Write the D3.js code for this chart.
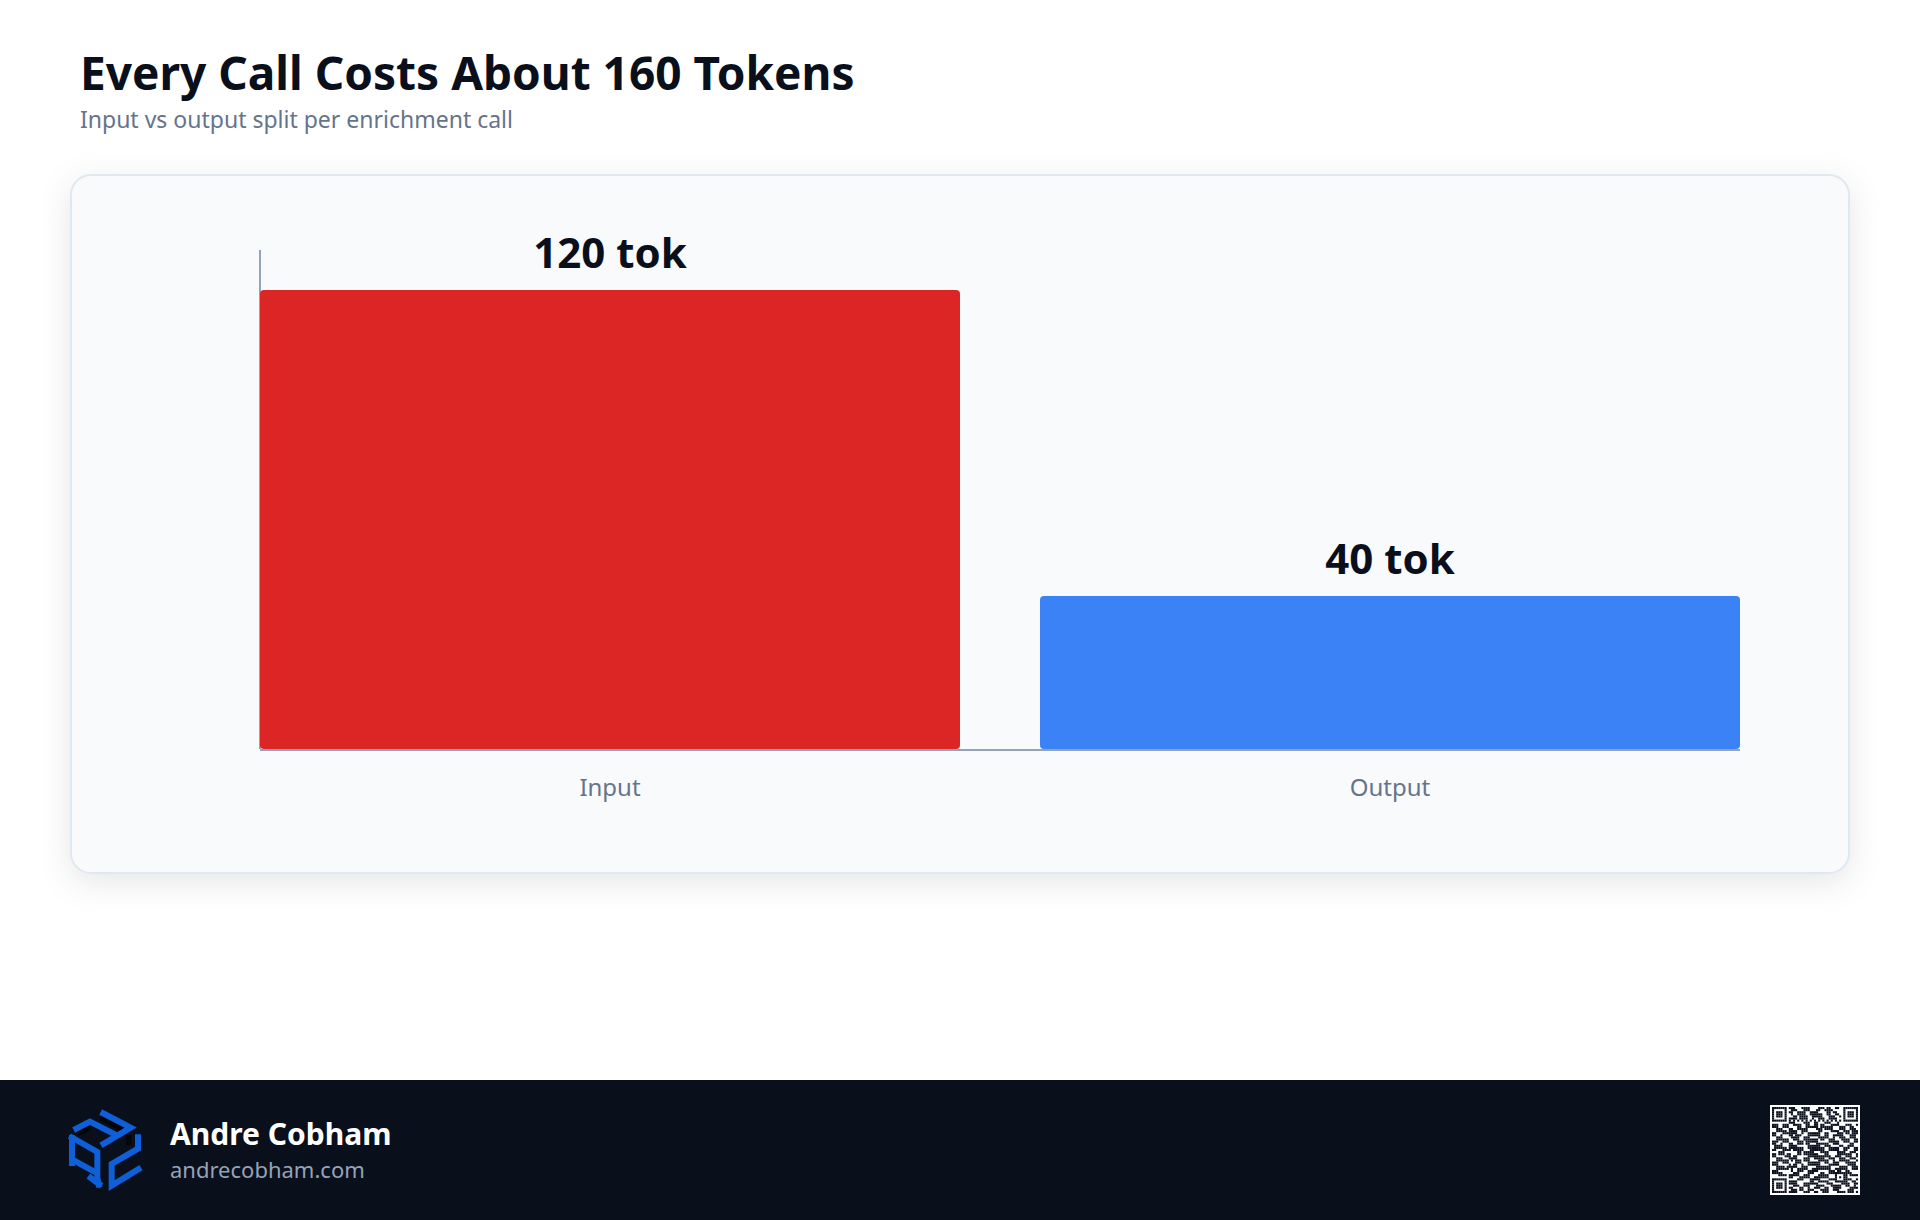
<!DOCTYPE html>
<html>
<head>
<meta charset="utf-8">
<script src="https://cdnjs.cloudflare.com/ajax/libs/d3/7.8.5/d3.min.js"></script>
<style>
html, body { margin: 0; padding: 0; background: #fff; }
svg { display: block; font-family: "Noto Sans", sans-serif; }
</style>
</head>
<body>
<div id="chart"></div>
<script>
var categories = ["Input", "Output"]
var tokens = [120, 40]
var barColors = ["#dc2626", "#3b82f6"]
var yDomainMax = 130.46

var titleText = "Every Call Costs About 160 Tokens"
var subtitleText = "Input vs output split per enrichment call"
var authorName = "Andre Cobham"
var authorSite = "andrecobham.com"

// footer qr code (5 per group)
var qrRows = [
	"11111 11011 10001 11100 00111 01100 11001 11111 1",
	"10000 01001 11000 11100 01100 11110 00001 00000 1",
	"10111 01011 00111 10011 11000 01101 10001 01110 1",
	"10111 01001 00111 10011 11110 01100 11001 01110 1",
	"10111 01000 11011 11001 11110 00111 00101 01110 1",
	"10000 01011 11011 11001 00111 00111 10001 00000 1",
	"11111 11010 10101 01010 10101 01010 10101 11111 1",
	"00000 00011 10000 11100 11000 11100 01000 00000 0",
	"11100 11100 11110 01100 11011 00011 11000 11100 1",
	"11100 11100 00110 01111 11011 11110 00111 00110 0",
	"00111 00011 00111 11000 01110 11110 00111 00111 0",
	"00111 11011 11001 11000 00110 00011 11001 11011 1",
	"11000 11111 11001 00111 11100 11000 01110 11011 1",
	"11001 00011 01110 00111 11100 11001 11110 00111 0",
	"00111 00001 11100 11100 00111 11001 00111 00111 0",
	"00111 11100 11100 11111 11011 00111 00011 11001 1",
	"11100 11100 00111 01111 11000 00111 11001 11001 1",
	"11001 00011 00111 01100 01111 11001 11000 00110 0",
	"01111 00011 11000 00111 11100 11100 00110 01110 0",
	"01111 11011 11111 00111 11111 00111 11001 11001 1",
	"11000 11110 11111 00011 11111 00111 11001 10001 1",
	"00011 10000 00110 11111 00011 11000 01111 00111 0",
	"11011 10110 00110 11111 11000 11000 01111 11100 1",
	"11000 01110 11000 00111 11111 11100 11100 11100 1",
	"00111 00011 11000 11100 11111 00111 00111 00111 0",
	"00111 11101 01110 11100 00111 11001 00111 11000 1",
	"11100 11100 01110 00111 11100 11001 11000 11111 0",
	"11100 00010 11001 00111 11100 00111 11000 01111 0",
	"00111 10111 11001 11000 01111 11100 00111 10011 1",
	"00111 11101 00111 11001 11111 11100 11111 10011 1",
	"11100 00001 00111 00111 11000 00111 01100 11000 0",
	"11111 00000 11100 00111 00011 00111 11111 11100 0",
	"00011 11011 11100 11100 00111 11000 10001 10111 1",
	"00000 00011 00011 11100 11111 11000 10101 10000 0",
	"11111 11000 00111 00011 11100 00111 10001 11100 1",
	"10000 01011 11000 00011 00111 11000 11111 10011 0",
	"10111 01011 11000 11111 11000 01110 00011 11001 1",
	"10111 01000 11100 11100 01111 00011 11100 11001 0",
	"10111 01011 00011 00100 11100 11001 11100 00111 1",
	"10000 01001 11011 00111 00011 11001 11000 01110 0",
	"11111 11011 11000 11100 11001 11000 01111 01110 1"
].map(function(r){ return r.replace(/ /g, "") })

// logo strokes, in 3x crop coordinates of the mark
var logoStrokes = [
	"M96,135 V228",
	"M88,138 L172,186 V262 L178,292",
	"M96,208 L172,250",
	"M145,258 L185,288",
	"M182,66 L272,113 L183,166",
	"M101,120 L150,95 L232,137",
	"M294,133 V176 L215,222 V287 L303,233"
]
var logoShades = [
	"M182,84 L262,125",
	"M150,112 L115,130",
	"M266,135 V165",
	"M150,245 L185,270"
]

var W = 1920, H = 1220
var margin = {top: 250, right: 180, bottom: 471, left: 260}
var width = W - margin.left - margin.right
var height = H - margin.top - margin.bottom

var x = d3.scaleBand()
	.domain(categories)
	.range([0, width])
	.paddingInner(80 / 780)
	.paddingOuter(0)

var y = d3.scaleLinear()
	.domain([0, yDomainMax])
	.range([height, 0])

var svg = d3.select("#chart")
	.append("svg")
	.attr("width", W)
	.attr("height", H)

// card
svg.append("rect")
	.attr("x", 71).attr("y", 175)
	.attr("width", 1778).attr("height", 698)
	.attr("rx", 20).attr("ry", 20)
	.attr("fill", "#f8fafc")
	.attr("stroke", "#e2e8f0")
	.attr("stroke-width", 2)
	.style("filter", "drop-shadow(0 8px 16px rgba(15,23,42,0.11))")

svg.append("text")
	.attr("x", 80).attr("y", 90)
	.attr("font-size", 46).attr("font-weight", 700)
	.attr("fill", "#0a0f1c")
	.text(titleText)

svg.append("text")
	.attr("x", 80).attr("y", 128)
	.attr("font-size", 23)
	.attr("fill", "#64748b")
	.text(subtitleText)

var main = svg.append("g")
	.attr("transform", "translate(" + margin.left + "," + margin.top + ")")

main.append("g")
	.attr("class", "y-axis")
	.call(d3.axisLeft(y).tickValues([]).tickSize(0).offset(0))
	.select(".domain")
	.attr("stroke", "#94a3b8").attr("stroke-width", 2)

// the baseline sits just under the bars, they stop on its top edge
var xAxis = main.append("g")
	.attr("class", "x-axis")
	.attr("transform", "translate(0," + (height + 1) + ")")
	.call(d3.axisBottom(x).tickSize(0).tickPadding(29).offset(0))

xAxis.select(".domain").attr("stroke", "#94a3b8").attr("stroke-width", 2)
xAxis.selectAll("text")
	.attr("font-family", '"Noto Sans", sans-serif')
	.attr("font-size", 24)
	.attr("fill", "#64748b")

main.selectAll(".bar")
	.data(tokens)
	.enter().append("rect")
	.attr("class", "bar")
	.attr("x", function(d, i){ return x(categories[i]) })
	.attr("y", function(d){ return y(d) })
	.attr("width", x.bandwidth())
	.attr("height", function(d){ return y(0) - y(d) })
	.attr("rx", 4).attr("ry", 4)
	.attr("fill", function(d, i){ return barColors[i] })

main.selectAll(".val")
	.data(tokens)
	.enter().append("text")
	.attr("class", "val")
	.attr("x", function(d, i){ return x(categories[i]) + x.bandwidth() / 2 })
	.attr("y", function(d){ return y(d) - 22 })
	.attr("text-anchor", "middle")
	.attr("font-size", 42).attr("font-weight", 700)
	.attr("fill", "#0a0f1c")
	.text(function(d){ return d + " tok" })

// footer
svg.append("rect")
	.attr("x", 0).attr("y", 1080)
	.attr("width", W).attr("height", 140)
	.attr("fill", "#0a0f1c")

var logo = svg.append("g")
	.attr("transform", "translate(40,1090) scale(0.3333)")
	.attr("fill", "none")

logo.selectAll("path.shade")
	.data(logoShades)
	.enter().append("path")
	.attr("class", "shade")
	.attr("d", function(d){ return d })
	.attr("stroke", "#030509").attr("stroke-width", 16)

logo.selectAll("path.face")
	.data(logoStrokes)
	.enter().append("path")
	.attr("class", "face")
	.attr("d", function(d){ return d })
	.attr("stroke", "#0f5fd8").attr("stroke-width", 18)

svg.append("text")
	.attr("x", 170).attr("y", 1145)
	.attr("font-size", 30).attr("font-weight", 700)
	.attr("fill", "#ffffff")
	.text(authorName)

svg.append("text")
	.attr("x", 170).attr("y", 1178)
	.attr("font-size", 22)
	.attr("fill", "#94a3b8")
	.text(authorSite)

// qr
var qr = svg.append("g").attr("transform", "translate(1770,1105)")
qr.append("rect").attr("width", 90).attr("height", 90).attr("fill", "#fff")

var qrScale = d3.scaleLinear().domain([0, 41]).range([2, 88])
qrRows.forEach(function(row, r){
	row.split("").forEach(function(c, k){
		if (c != "1") return
		qr.append("rect")
			.attr("x", qrScale(k)).attr("y", qrScale(r))
			.attr("width", qrScale(1) - qrScale(0)).attr("height", qrScale(1) - qrScale(0))
			.attr("fill", "#0a0f1c")
	})
})
</script>
</body>
</html>
